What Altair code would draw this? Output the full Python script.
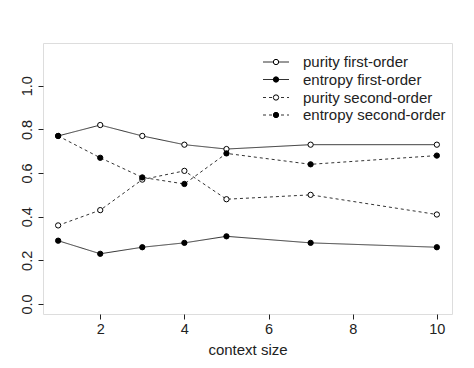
import altair as alt
import pandas as pd

context_size = [1, 2, 3, 4, 5, 7, 10]
purity_first = [0.77, 0.82, 0.77, 0.73, 0.71, 0.73, 0.73]
entropy_first = [0.29, 0.23, 0.26, 0.28, 0.31, 0.28, 0.26]
purity_second = [0.36, 0.43, 0.57, 0.61, 0.48, 0.50, 0.41]
entropy_second = [0.77, 0.67, 0.58, 0.55, 0.69, 0.64, 0.68]

series_names = ["purity first-order", "entropy first-order",
                "purity second-order", "entropy second-order"]
series_values = [purity_first, entropy_first, purity_second, entropy_second]
series_dash = [[1, 0], [1, 0], [3, 3], [3, 3]]
series_fill = ["white", "black", "white", "black"]

rows = []
for name, vals in zip(series_names, series_values):
    for x, v in zip(context_size, vals):
        rows.append({"x": x, "y": v, "series": name})
df = pd.DataFrame(rows)

FONT = "Liberation Sans"
INK = "#222222"

xs = alt.Scale(domain=[0.64, 10.36], nice=False, zero=False)
ys = alt.Scale(domain=[-0.046, 1.196], nice=False, zero=False)
dash_scale = alt.Scale(domain=series_names, range=series_dash)
fill_scale = alt.Scale(domain=series_names, range=series_fill)

xenc = alt.X("x:Q", scale=xs, title="context size",
             axis=alt.Axis(values=[2, 4, 6, 8, 10], format="d", domain=False,
                           tickSize=5, tickColor=INK, labelPadding=3,
                           labelFontSize=14.5, titleFontSize=15, titlePadding=7,
                           grid=False, labelColor=INK, titleColor=INK,
                           labelFont=FONT, titleFont=FONT, titleFontWeight="normal"))
yenc = alt.Y("y:Q", scale=ys, title=None,
             axis=alt.Axis(values=[0, 0.2, 0.4, 0.6, 0.8, 1.0], format=".1f",
                           domain=False, tickSize=5, tickColor=INK,
                           labelAngle=270, labelAlign="center", labelBaseline="bottom",
                           labelPadding=4, labelFontSize=14.5, grid=False,
                           labelColor=INK, labelFont=FONT))

lines = alt.Chart(df).mark_line(strokeWidth=1, color="#333333").encode(
    x=xenc, y=yenc,
    strokeDash=alt.StrokeDash("series:N", scale=dash_scale, legend=None),
    detail="series:N",
)
points = alt.Chart(df).mark_point(size=28, strokeWidth=1, color="black", opacity=1,
                                  filled=False).encode(
    x=alt.X("x:Q", scale=xs), y=alt.Y("y:Q", scale=ys),
    fill=alt.Fill("series:N", scale=fill_scale, legend=None),
)

# manual legend (R style)
leg_df = pd.DataFrame({"series": series_names,
                       "row": list(range(len(series_names)))})
legend_layers = []
row_y = [19, 36.5, 54.5, 72]
for i, name in enumerate(series_names):
    sub = alt.Chart(leg_df[leg_df.series == name])
    legend_layers.append(sub.mark_rule(strokeWidth=1, color="#333333",
                                       strokeDash=series_dash[i]).encode(
        x=alt.value(220), x2=alt.value(246), y=alt.value(row_y[i])))
    legend_layers.append(sub.mark_point(size=28, strokeWidth=1, color="black",
                                        fill=series_fill[i], filled=False, opacity=1).encode(
        x=alt.value(233), y=alt.value(row_y[i])))
    legend_layers.append(sub.mark_text(align="left", baseline="middle", fontSize=15,
                                       font=FONT, color=INK).encode(
        x=alt.value(260), y=alt.value(row_y[i]), text="series:N"))

chart = alt.layer(lines, points, *legend_layers).properties(
    width=409, height=271,
    autosize=alt.AutoSizeParams(type="none"),
    padding={"left": 35, "top": 35, "right": 14, "bottom": 46},
).configure_view(stroke="#333333", strokeWidth=1).configure(background="white")

chart.save("out.html", embed_options={"renderer": "svg", "actions": False})
